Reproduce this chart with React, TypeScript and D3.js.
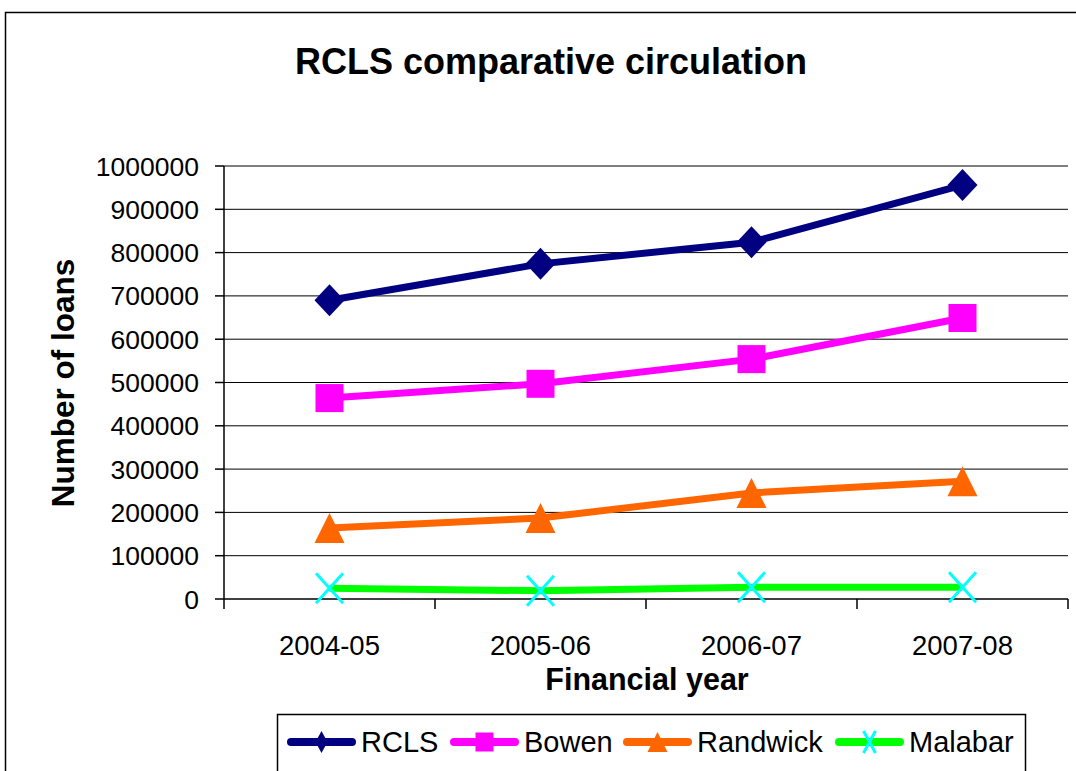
import React from 'react';
import * as d3 from 'd3';

const years = ['2004-05', '2005-06', '2006-07', '2007-08'];
const rcls = [690000, 774000, 824000, 956000];
const bowen = [464000, 497000, 554000, 649000];
const randwick = [164000, 187000, 245000, 272000];
const malabar = [25000, 19000, 27000, 27000];
const yTicks = [0, 100000, 200000, 300000, 400000, 500000, 600000, 700000, 800000, 900000, 1000000];

const seriesList = [
  { name: 'RCLS', values: rcls, color: '#000080', marker: 'diamond' },
  { name: 'Bowen', values: bowen, color: '#FF00FF', marker: 'square' },
  { name: 'Randwick', values: randwick, color: '#FF6600', marker: 'triangle' },
  { name: 'Malabar', values: malabar, color: '#00FF00', marker: 'x' },
];

const FONT = 'Liberation Sans, Arial, sans-serif';

// w/h are half-sizes of the marker
function Marker({ type, cx, cy, color, w, h }: { type: string; cx: number; cy: number; color: string; w: number; h: number }) {
  if (type === 'diamond') {
    return <path d={`M${cx},${cy - h}L${cx + w},${cy}L${cx},${cy + h}L${cx - w},${cy}Z`} fill={color} />;
  }
  if (type === 'square') {
    return <rect x={cx - w} y={cy - h} width={w * 2} height={h * 2} fill={color} />;
  }
  if (type === 'triangle') {
    return <path d={`M${cx},${cy - h}L${cx + w},${cy + h}L${cx - w},${cy + h}Z`} fill={color} />;
  }
  return (
    <g stroke="#00FFFF" strokeWidth={3}>
      <line x1={cx - w} y1={cy - h} x2={cx + w} y2={cy + h} />
      <line x1={cx - w} y1={cy + h} x2={cx + w} y2={cy - h} />
    </g>
  );
}

export default function App() {
  const width = 1076;
  const height = 771;
  const plot = { left: 224, right: 1068, top: 166, bottom: 599 };

  const x = d3.scaleBand<string>().domain(years).range([plot.left, plot.right]);
  const y = d3.scaleLinear().domain([0, 1000000]).range([plot.bottom, plot.top]);
  const cxOf = (i: number) => (x(years[i]) as number) + x.bandwidth() / 2;

  const line = d3.line<number>()
    .x((_, i) => cxOf(i))
    .y(d => y(d));

  // legend layout: swatch start and text start
  const legendSwatch = [287, 450, 623, 835];
  const legendText = [361, 524, 697, 909];
  const plotSize: Record<string, [number, number]> = {
    diamond: [15, 16], square: [14, 14], triangle: [15, 15], x: [13.5, 15],
  };
  const legSize: Record<string, [number, number]> = {
    diamond: [6, 11], square: [9, 9.5], triangle: [10, 10], x: [6, 11],
  };

  return (
    <svg width={width} height={height} style={{ position: 'absolute', left: 0, top: 0, background: '#fff' }}>
      <rect x={5.5} y={12.5} width={1100} height={800} fill="#fff" stroke="#000" strokeWidth={1.5} />

      <text x={551} y={74} textAnchor="middle" fontFamily={FONT} fontWeight="bold" fontSize={36}>
        RCLS comparative circulation
      </text>

      {/* grid lines */}
      {yTicks.slice(1).map(t => (
        <line key={t} x1={plot.left} x2={plot.right} y1={y(t)} y2={y(t)} stroke="#000" strokeWidth={1} />
      ))}

      {/* y axis */}
      <line x1={plot.left} x2={plot.left} y1={plot.top} y2={plot.bottom} stroke="#000" strokeWidth={1.5} />
      {yTicks.map(t => (
        <g key={t}>
          <line x1={plot.left - 9} x2={plot.left} y1={y(t)} y2={y(t)} stroke="#000" strokeWidth={1.5} />
          <text x={199} y={y(t) + 9.5} textAnchor="end" fontFamily={FONT} fontSize={26.5}>{t}</text>
        </g>
      ))}

      {/* x axis */}
      <line x1={plot.left} x2={plot.right} y1={plot.bottom} y2={plot.bottom} stroke="#000" strokeWidth={1.5} />
      {[...years.map(c => x(c) as number), plot.right].map((px, i) => (
        <line key={i} x1={px} x2={px} y1={plot.bottom} y2={plot.bottom + 10} stroke="#000" strokeWidth={1.5} />
      ))}
      {years.map((c, i) => (
        <text key={c} x={cxOf(i)} y={655} textAnchor="middle" fontFamily={FONT} fontSize={27.5}>
          {c}
        </text>
      ))}

      <text x={647} y={690} textAnchor="middle" fontFamily={FONT} fontWeight="bold" fontSize={30.5}>
        Financial year
      </text>
      <text transform="translate(74,383) rotate(-90)" textAnchor="middle" fontFamily={FONT} fontWeight="bold" fontSize={31.5}>
        Number of loans
      </text>

      {/* series */}
      {seriesList.map(s => (
        <g key={s.name}>
          <path d={line(s.values)!} fill="none" stroke={s.color} strokeWidth={7} />
          {s.values.map((v, i) => (
            <Marker key={i} type={s.marker} cx={cxOf(i)} cy={y(v)} color={s.color}
              w={plotSize[s.marker][0]} h={plotSize[s.marker][1]} />
          ))}
        </g>
      ))}

      {/* legend */}
      <rect x={277.5} y={714.5} width={748} height={80} fill="#fff" stroke="#000" strokeWidth={1.5} />
      {seriesList.map((s, i) => {
        const sx = legendSwatch[i];
        const ly = 742;
        return (
          <g key={s.name}>
            <line x1={sx + 4} x2={sx + 65} y1={ly} y2={ly} stroke={s.color} strokeWidth={8} strokeLinecap="round" />
            <Marker type={s.marker} cx={sx + 34.5} cy={ly} color={s.color}
              w={legSize[s.marker][0]} h={legSize[s.marker][1]} />
            <text x={legendText[i]} y={752} fontFamily={FONT} fontSize={29}>{s.name}</text>
          </g>
        );
      })}
    </svg>
  );
}
